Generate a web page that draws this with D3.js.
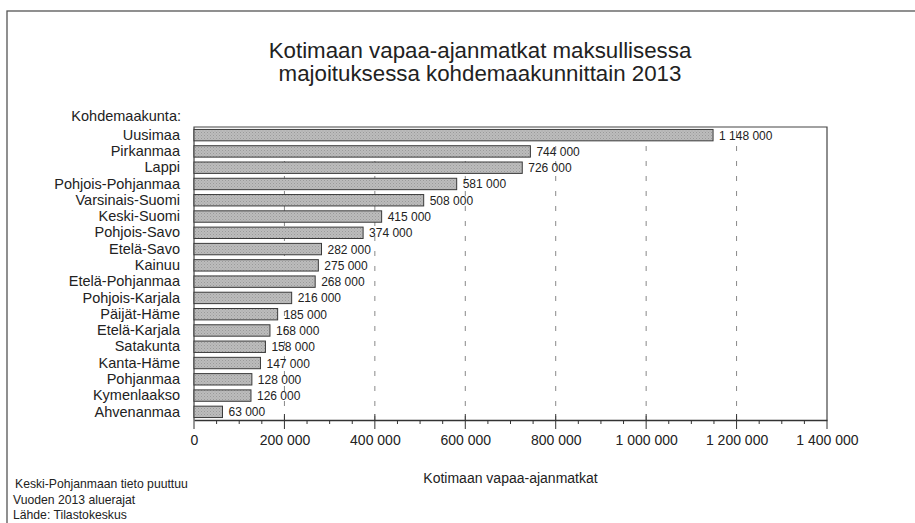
<!DOCTYPE html>
<html>
<head>
<meta charset="utf-8">
<script src="https://cdn.jsdelivr.net/npm/d3@7"></script>
<style>
  html, body { margin: 0; padding: 0; background: #fff; }
  svg { display: block; font-family: "Liberation Sans", Arial, sans-serif; }
</style>
</head>
<body>
<svg id="chart" width="915" height="523"></svg>
<script>
const categories = ["Uusimaa","Pirkanmaa","Lappi","Pohjois-Pohjanmaa","Varsinais-Suomi","Keski-Suomi","Pohjois-Savo","Etelä-Savo","Kainuu","Etelä-Pohjanmaa","Pohjois-Karjala","Päijät-Häme","Etelä-Karjala","Satakunta","Kanta-Häme","Pohjanmaa","Kymenlaakso","Ahvenanmaa"];
const values = [1148000,744000,726000,581000,508000,415000,374000,282000,275000,268000,216000,185000,168000,158000,147000,128000,126000,63000];
const majorTicks = [0,200000,400000,600000,800000,1000000,1200000,1400000];
const titleLines = ["Kotimaan vapaa-ajanmatkat maksullisessa","majoituksessa kohdemaakunnittain 2013"];
const axisTitle = "Kotimaan vapaa-ajanmatkat";
const categoryTitle = "Kohdemaakunta:";
const notes = ["Keski-Pohjanmaan tieto puuttuu","Vuoden 2013 aluerajat","Lähde: Tilastokeskus"];

const loc = d3.formatLocale({decimal: ",", thousands: "\u00a0", grouping: [3], currency: ["", " €"]});
const fmt = loc.format(",d");

const svg = d3.select("#chart");
const L = 194, R = 827, T = 127, B = 420;

// subtle stipple texture for bars
const defs = svg.append("defs");
const pat = defs.append("pattern").attr("id", "stipple").attr("patternUnits", "userSpaceOnUse")
  .attr("width", 3).attr("height", 3);
pat.append("rect").attr("width", 3).attr("height", 3).attr("fill", "#bcbcbc");
pat.append("rect").attr("x", 0).attr("y", 0).attr("width", 1).attr("height", 1).attr("fill", "#9a9a9a");
pat.append("rect").attr("x", 1.5).attr("y", 1.5).attr("width", 1).attr("height", 1).attr("fill", "#a6a6a6");

// outer frame
svg.append("rect").attr("x", 7).attr("y", 11).attr("width", 940).attr("height", 540)
  .attr("fill", "none").attr("stroke", "#555").attr("stroke-width", 1.3);

// title
svg.append("g").selectAll("text").data(titleLines).join("text")
  .attr("x", 480).attr("y", (d, i) => 58 + i * 23)
  .attr("text-anchor", "middle").attr("font-size", 22.3).attr("fill", "#222")
  .text(d => d);

const x = d3.scaleLinear().domain([0, 1400000]).range([L, R]);
const y = d3.scaleBand().domain(categories).range([T, B]).paddingInner(0.3).paddingOuter(0.15);

// gridlines
svg.append("g").selectAll("line").data(majorTicks.filter(t => t > 0 && t < 1400000)).join("line")
  .attr("x1", d => x(d)).attr("x2", d => x(d)).attr("y1", T + 4).attr("y2", B)
  .attr("stroke", "#888").attr("stroke-width", 1).attr("stroke-dasharray", "5,10");

// plot frame (top, right, left)
svg.append("path").attr("d", `M${L},${B}V${T}H${R}V${B}`)
  .attr("fill", "none").attr("stroke", "#444").attr("stroke-width", 1.2);

// bars
svg.append("g").selectAll("rect").data(categories).join("rect")
  .attr("x", x(0)).attr("y", d => y(d))
  .attr("width", (d, i) => x(values[i]) - x(0)).attr("height", y.bandwidth())
  .attr("fill", "url(#stipple)").attr("stroke", "#3a3a3a").attr("stroke-width", 1);

// value labels
svg.append("g").selectAll("text").data(categories).join("text")
  .attr("x", (d, i) => x(values[i]) + 6).attr("y", d => y(d) + y.bandwidth() / 2 + 4.5)
  .attr("font-size", 12).attr("fill", "#222")
  .text((d, i) => fmt(values[i]));

// category labels
const yAxis = svg.append("g").attr("transform", `translate(${L},0)`)
  .call(d3.axisLeft(y).tickSize(0).tickPadding(14));
yAxis.select(".domain").remove();
yAxis.selectAll("text").attr("font-size", 14.5).attr("fill", "#222")
  .attr("font-family", "Liberation Sans, Arial, sans-serif");

svg.append("text").attr("x", 181).attr("y", 121).attr("text-anchor", "end")
  .attr("font-size", 14.5).attr("fill", "#222").text(categoryTitle);

// x axis ticks (minor every 50 000, major every 200 000)
const minorTicks = d3.range(0, 1400001, 50000);
svg.append("g").selectAll("line").data(minorTicks).join("line")
  .attr("x1", d => x(d)).attr("x2", d => x(d)).attr("y1", B)
  .attr("y2", d => (d % 200000 === 0 ? B + 9 : B + 4))
  .attr("stroke", "#333").attr("stroke-width", 1);
svg.append("g").selectAll("line").data(majorTicks.filter(t => t > 0 && t < 1400000)).join("line")
  .attr("x1", d => x(d)).attr("x2", d => x(d)).attr("y1", B - 6).attr("y2", B)
  .attr("stroke", "#333").attr("stroke-width", 1);

const xAxis = svg.append("g").attr("transform", `translate(0,${B})`)
  .call(d3.axisBottom(x).tickValues(majorTicks).tickFormat(fmt).tickSize(0).tickPadding(15));
xAxis.select(".domain").attr("stroke", "#333").attr("stroke-width", 1.3);
xAxis.selectAll("text").attr("font-size", 14).attr("fill", "#222")
  .attr("font-family", "Liberation Sans, Arial, sans-serif");

svg.append("text").attr("x", (L + R) / 2).attr("y", 483).attr("text-anchor", "middle")
  .attr("font-size", 14).attr("fill", "#222").text(axisTitle);

svg.append("g").selectAll("text").data(notes).join("text")
  .attr("x", (d, i) => i === 0 ? 15 : 13).attr("y", (d, i) => 488 + i * 15.5)
  .attr("font-size", 12.2).attr("fill", "#222").text(d => d);
</script>
</body>
</html>
